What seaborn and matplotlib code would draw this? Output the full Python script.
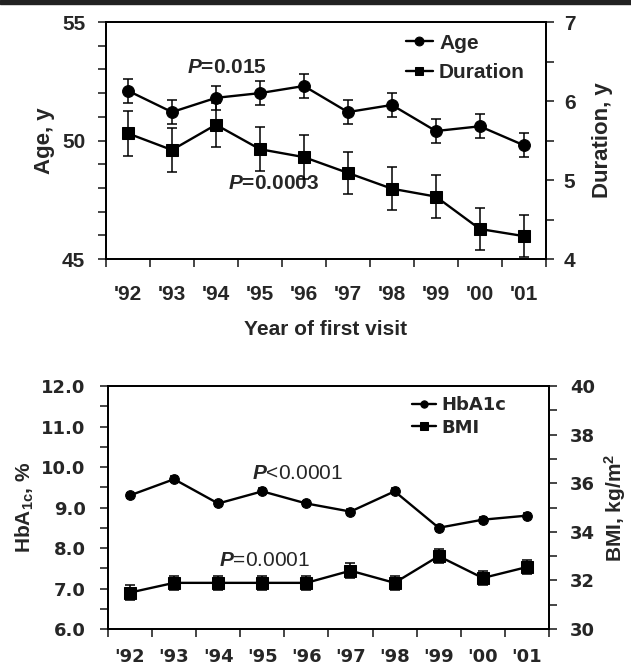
import matplotlib
matplotlib.use("Agg")
import matplotlib.pyplot as plt
import seaborn as sns
import numpy as np
import pandas as pd

years = ["'92", "'93", "'94", "'95", "'96", "'97", "'98", "'99", "'00", "'01"]
age = [52.1, 51.2, 51.8, 52.0, 52.3, 51.2, 51.5, 50.4, 50.6, 49.8]
age_err = [0.5, 0.5, 0.5, 0.5, 0.5, 0.5, 0.5, 0.5, 0.5, 0.5]
duration = [5.59, 5.38, 5.70, 5.39, 5.29, 5.09, 4.89, 4.79, 4.38, 4.29]
duration_err = [0.28, 0.28, 0.28, 0.28, 0.28, 0.27, 0.27, 0.27, 0.27, 0.27]
hba1c = [9.3, 9.7, 9.1, 9.4, 9.1, 8.9, 9.4, 8.5, 8.7, 8.8]
hba1c_err = [0.07, 0.07, 0.07, 0.07, 0.07, 0.07, 0.07, 0.07, 0.07, 0.07]
bmi = [31.5, 31.9, 31.9, 31.9, 31.9, 32.4, 31.9, 33.0, 32.1, 32.55]
bmi_err = [0.32, 0.3, 0.3, 0.3, 0.3, 0.3, 0.3, 0.3, 0.3, 0.3]

sns.set_theme(style="ticks")
plt.rcParams['font.family'] = ['Liberation Sans', 'DejaVu Sans']
plt.rcParams['font.weight'] = 'bold'
plt.rcParams['axes.labelweight'] = 'bold'
plt.rcParams['mathtext.fontset'] = 'custom'
plt.rcParams['mathtext.rm'] = 'Liberation Sans:bold'
plt.rcParams['mathtext.it'] = 'Liberation Sans:italic'
plt.rcParams['mathtext.bf'] = 'Liberation Sans:bold'
plt.rcParams['mathtext.bfit'] = 'Liberation Sans:italic:bold'

WIDE = ['DejaVu Sans']

pos = np.arange(len(years)) + 0.5
df = pd.DataFrame({"x": pos, "age": age, "duration": duration, "hba1c": hba1c, "bmi": bmi})

fig = plt.figure(figsize=(6.31, 6.65), dpi=100)
fig.patches.append(plt.Rectangle((0, 0.994), 1, 0.006, transform=fig.transFigure,
                                 color="#222222", zorder=0))

def setup_x(ax, fs, pad, family):
    ax.set_xlim(0, 10)
    ax.set_xticks(np.arange(0, 11))
    ax.set_xticklabels([])
    ax.set_xticks(pos, minor=True)
    ax.set_xticklabels(years, minor=True, fontsize=fs, fontweight='bold', family=family)
    ax.tick_params(axis='x', which='minor', length=0, pad=pad)
    ax.tick_params(axis='x', which='major', length=6, width=1.2, direction='out')

def style(ax, ax2):
    for a in (ax, ax2):
        for s in a.spines.values():
            s.set_linewidth(1.3)
            s.set_color('black')
        a.spines['top'].set_visible(True)
        a.spines['right'].set_visible(True)

lw = 1.7
ebar = dict(fmt='none', ecolor='black', elinewidth=1.1, capthick=1.1)
# ---------- top panel ----------
ax1 = fig.add_axes([0.168, 0.6105, 0.697, 0.3564])
ax1b = ax1.twinx()
sns.lineplot(data=df, x="x", y="age", ax=ax1, color="black", marker="o", markersize=8.5,
             linewidth=lw, markeredgecolor="black", label="Age", legend=False)
ax1.errorbar(pos, age, yerr=age_err, capsize=3.5, **ebar)
sns.lineplot(data=df, x="x", y="duration", ax=ax1b, color="black", marker="s", markersize=8.5,
             linewidth=lw, markeredgecolor="black", label="Duration", legend=False)
ax1b.errorbar(pos, duration, yerr=duration_err, capsize=3.5, **ebar)
ax1.set_ylim(45, 55)
ax1.set_yticks([45, 50, 55])
ax1.set_yticks(np.arange(45, 56, 1), minor=True)
ax1b.set_ylim(4, 7)
ax1b.set_yticks([4, 5, 6, 7])
ax1b.set_yticks(np.arange(4, 7.01, 0.5), minor=True)
setup_x(ax1, 15, 19, ['Liberation Sans'])
ax1.set_xlabel("Year of first visit", fontsize=15, fontweight='bold', labelpad=11)
ax1.set_ylabel("Age, y", fontsize=16, fontweight='bold', labelpad=5)
ax1b.set_ylabel("Duration, y", fontsize=16, fontweight='bold', labelpad=12)
for a in (ax1, ax1b):
    a.tick_params(axis='y', which='both', length=6, width=1.2, direction='out')
    a.tick_params(axis='y', which='major', labelsize=15, pad=9)
ax1b.tick_params(axis='y', which='major', pad=7)
for lab in ax1.get_yticklabels() + ax1b.get_yticklabels():
    lab.set_fontweight('bold')
style(ax1, ax1b)
ax1.text(1.84, 53.1, r"$\bfit{P}$=0.015", fontsize=15, fontweight='bold', ha='left', va='center')
ax1.text(2.77, 48.2, r"$\bfit{P}$=0.0003", fontsize=15, fontweight='bold', ha='left', va='center')
h1, l1 = ax1.get_legend_handles_labels()
h2, l2 = ax1b.get_legend_handles_labels()
ax1.legend(h1 + h2, l1 + l2, loc='upper right', bbox_to_anchor=(0.995, 1.03), frameon=False,
           handlelength=1.3, handletextpad=0.3, labelspacing=0.5, markerscale=0.75,
           prop={'weight': 'bold', 'size': 15})

# ---------- bottom panel ----------
ax2 = fig.add_axes([0.171, 0.0541, 0.699, 0.3654])
ax2b = ax2.twinx()
sns.lineplot(data=df, x="x", y="hba1c", ax=ax2, color="black", marker="o", markersize=7,
             linewidth=lw, markeredgecolor="black", label="HbA1c", legend=False)
ax2.errorbar(pos, hba1c, yerr=hba1c_err, capsize=3, **ebar)
sns.lineplot(data=df, x="x", y="bmi", ax=ax2b, color="black", marker="s", markersize=8,
             linewidth=lw, markeredgecolor="black", label="BMI", legend=False)
ax2b.errorbar(pos, bmi, yerr=bmi_err, capsize=3.5, **ebar)
ax2.set_ylim(6, 12)
ax2.set_yticks(np.arange(6, 12.01, 1.0))
ax2.set_yticklabels([f"{v:.1f}" for v in np.arange(6, 12.01, 1.0)], family=WIDE)
ax2.set_yticks(np.arange(6, 12.01, 0.5), minor=True)
ax2b.set_ylim(30, 40)
ax2b.set_yticks(np.arange(30, 41, 2))
ax2b.set_yticklabels([str(v) for v in range(30, 41, 2)], family=WIDE)
ax2b.set_yticks(np.arange(30, 41, 1), minor=True)
setup_x(ax2, 13, 14, WIDE)
ax2.set_xlabel("")
ax2.set_ylabel(r"HbA$_{\mathbf{1c}}$, %", fontsize=15, fontweight='bold', labelpad=4)
ax2b.set_ylabel(r"BMI, kg/m$^{\mathbf{2}}$", fontsize=15, fontweight='bold', labelpad=5)
for a in (ax2, ax2b):
    a.tick_params(axis='y', which='both', length=6, width=1.2, direction='out')
    a.tick_params(axis='y', which='major', labelsize=13, pad=10)
ax2b.tick_params(axis='y', which='major', pad=9)
for lab in ax2.get_yticklabels() + ax2b.get_yticklabels():
    lab.set_fontweight('bold')
style(ax2, ax2b)
ax2.text(3.27, 9.85, r"$\mathit{P}$<0.0001", fontsize=15, fontweight='normal', ha='left', va='center')
ax2.text(2.52, 7.7, r"$\mathit{P}$=0.0001", fontsize=15, fontweight='normal', ha='left', va='center')
h1, l1 = ax2.get_legend_handles_labels()
h2, l2 = ax2b.get_legend_handles_labels()
ax2.legend(h1 + h2, l1 + l2, loc='upper right', bbox_to_anchor=(0.94, 1.025), frameon=False,
           handlelength=1.3, handletextpad=0.3, labelspacing=0.25, markerscale=0.75,
           prop={'weight': 'bold', 'size': 13, 'family': 'DejaVu Sans'})

fig.savefig("out.png", dpi=100)
